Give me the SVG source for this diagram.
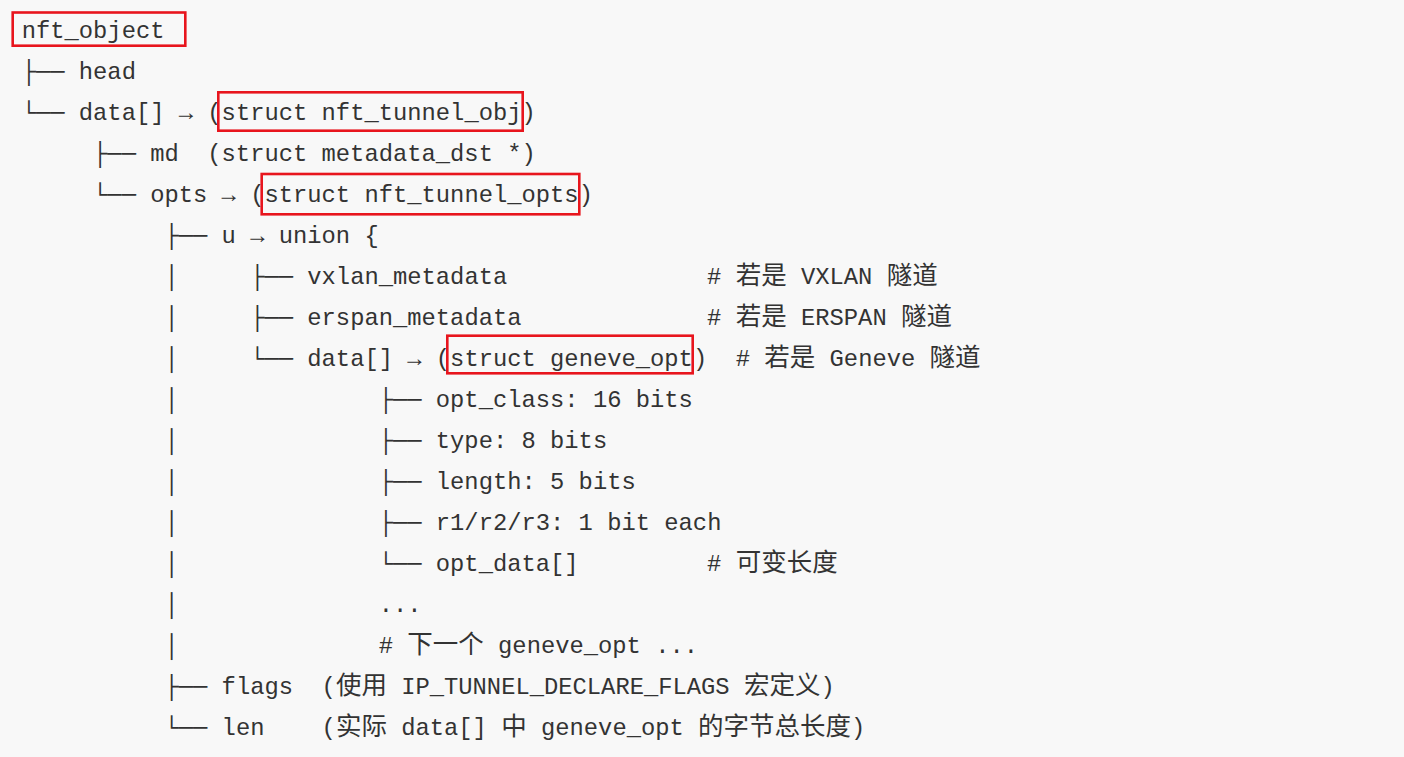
<svg xmlns="http://www.w3.org/2000/svg" width="1404" height="757" viewBox="0 0 1404 757">
<style>
  text { font-family: "Liberation Mono", "DejaVu Sans Mono", monospace; font-size: 23.8px; fill: #333333; white-space: pre; }
  .cjk { font-family: "Noto Sans CJK SC", "Noto Sans", sans-serif; font-size: 25.5px; }
  .box { fill: none; stroke: #e8151d; stroke-width: 2.6; }
</style>
<rect x="0" y="0" width="1404" height="757" fill="#f8f8f8"/>
<g id="tree-text">
  <text id="l0" x="21.7" y="37.5">nft_object</text>
  <text id="l1" x="21.7" y="78.5">├── head</text>
  <text id="l2" x="21.7" y="119.5">└── data[] → (struct nft_tunnel_obj)</text>
  <text id="l3" y="160.5"><tspan x="93.1">├── md</tspan><tspan x="207.3">(struct metadata_dst *)</tspan></text>
  <text id="l4" x="93.1" y="201.5">└── opts → (struct nft_tunnel_opts)</text>
  <text id="l5" x="164.5" y="242.5">├── u → union {</text>
  <text id="l6" y="283.5"><tspan x="164.5">│</tspan><tspan x="250.2">├── vxlan_metadata</tspan><tspan x="707.1">#</tspan><tspan class="cjk" x="735.7">若是</tspan><tspan x="801">VXLAN</tspan><tspan class="cjk" x="886.7">隧道</tspan></text>
  <text id="l7" y="324.5"><tspan x="164.5">│</tspan><tspan x="250.2">├── erspan_metadata</tspan><tspan x="707.1">#</tspan><tspan class="cjk" x="735.7">若是</tspan><tspan x="801">ERSPAN</tspan><tspan class="cjk" x="901">隧道</tspan></text>
  <text id="l8" y="365.5"><tspan x="164.5">│</tspan><tspan x="250.2">└── data[] → (struct geneve_opt)</tspan><tspan x="735.7">#</tspan><tspan class="cjk" x="764.3">若是</tspan><tspan x="829.6">Geneve</tspan><tspan class="cjk" x="929.6">隧道</tspan></text>
  <text id="l9" y="406.5"><tspan x="164.5">│</tspan><tspan x="378.7">├── opt_class: 16 bits</tspan></text>
  <text id="l10" y="447.5"><tspan x="164.5">│</tspan><tspan x="378.7">├── type: 8 bits</tspan></text>
  <text id="l11" y="488.5"><tspan x="164.5">│</tspan><tspan x="378.7">├── length: 5 bits</tspan></text>
  <text id="l12" y="529.5"><tspan x="164.5">│</tspan><tspan x="378.7">├── r1/r2/r3: 1 bit each</tspan></text>
  <text id="l13" y="570.5"><tspan x="164.5">│</tspan><tspan x="378.7">└── opt_data[]</tspan><tspan x="707.1">#</tspan><tspan class="cjk" x="735.7">可变长度</tspan></text>
  <text id="l14" y="611.5"><tspan x="164.5">│</tspan><tspan x="378.7">...</tspan></text>
  <text id="l15" y="652.5"><tspan x="164.5">│</tspan><tspan x="378.7">#</tspan><tspan class="cjk" x="407.3">下一个</tspan><tspan x="498.1">geneve_opt</tspan><tspan x="655.2">...</tspan></text>
  <text id="l16" y="693.5"><tspan x="164.5">├── flags</tspan><tspan x="321.6">(</tspan><tspan class="cjk" x="335.9">使用</tspan><tspan x="401.2">IP_TUNNEL_DECLARE_FLAGS</tspan><tspan class="cjk" x="743.9">宏定义</tspan><tspan x="820.4">)</tspan></text>
  <text id="l17" y="734.5"><tspan x="164.5">└── len</tspan><tspan x="321.6">(</tspan><tspan class="cjk" x="335.9">实际</tspan><tspan x="401.2">data[]</tspan><tspan class="cjk" x="501.2">中</tspan><tspan x="541">geneve_opt</tspan><tspan class="cjk" x="698.1">的字节总长度</tspan><tspan x="851.1">)</tspan></text>
</g>
<g id="highlights">
  <rect id="box-nft-object" class="box" x="12.7" y="12.5" width="172.6" height="33.2"/>
  <rect id="box-tunnel-obj" class="box" x="218.3" y="92.3" width="304.4" height="38.4"/>
  <rect id="box-tunnel-opts" class="box" x="261.7" y="174" width="317.6" height="40.3"/>
  <rect id="box-geneve-opt" class="box" x="447.3" y="335.7" width="245.4" height="37.6"/>
</g>
</svg>
